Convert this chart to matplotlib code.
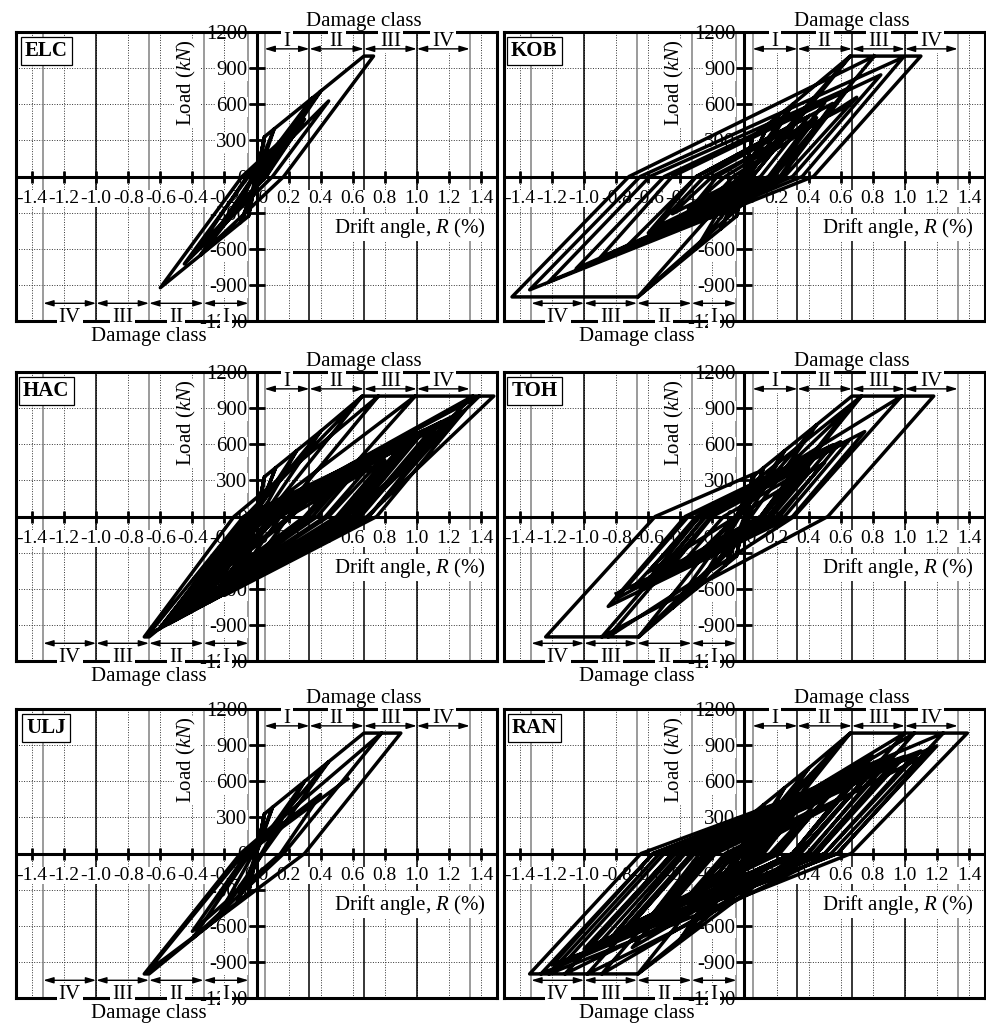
import matplotlib

matplotlib.use("Agg")
import matplotlib.pyplot as plt

plt.rcParams["font.family"] = ["Liberation Serif", "DejaVu Serif"]
plt.rcParams["mathtext.fontset"] = "custom"
plt.rcParams["mathtext.rm"] = "Liberation Serif"
plt.rcParams["mathtext.it"] = "Liberation Serif:italic"


# hysteresis vertices: drift angle R (%) and load (kN)
ELC_R = [0.00, 0.05, -0.05, 0.05, 0.11, -0.01, -0.05, -0.10, 0.01, 0.11, 0.35, 0.02,
         -0.10, -0.35, -0.02, 0.35, 0.40, 0.04, -0.30, -0.015, 0.40, 0.67, 0.73, 0.17,
         -0.35, -0.60, -0.09, 0.30, 0.06, -0.35, -0.06, 0.20, 0.06, -0.10, -0.02, 0.45,
         0.10, -0.45, -0.05, 0.25, 0.05]
ELC_P = [0, 330, -330, 330, 395, 0, -330, -384, 0, 395, 654, 0,
         -384, -654, 0, 654, 708, 0, -570, 0, 708, 1000, 1000, 0,
         -654, -924, 0, 476, 0, -574, 0, 329, 0, -224, 0, 627,
         0, -726, 0, 385, 0]

KOB_R = [0.00, 0.05, -0.05, 0.05, 0.15, 0.00, -0.05, -0.15, 0.00, 0.15, 0.30, 0.03,
         -0.15, -0.30, -0.03, 0.30, 0.66, 0.05, -0.30, -0.665, 0.00, 0.66, 0.81, 0.185,
         -0.665, -1.45, -0.72, 0.81, 1.10, 0.43, -1.34, -0.65, 0.99, 0.36, -1.22, -0.59,
         0.65, 0.23, -0.90, -0.45, 0.50, 0.15, -0.60, -0.30, 0.55, 0.22, -0.40, -0.17,
         0.45, 0.17, -0.25, -0.07, 0.70, 0.25, -1.05, -0.50, 0.85, 0.30, -0.75, -0.30,
         0.40, 0.10, -0.55, -0.25, 0.30, 0.05, -0.35, -0.12, 0.20, 0.00, -0.45, -0.20,
         0.65]
KOB_P = [0, 330, -330, 330, 438, 0, -330, -438, 0, 438, 600, 0,
         -438, -600, 0, 600, 1000, 0, -600, -1000, 0, 1000, 1000, 0,
         -1000, -1000, 0, 1000, 1000, 0, -941, 0, 990, 0, -873, 0,
         734, 0, -673, 0, 613, 0, -469, 0, 607, 0, -371, 0,
         488, 0, -259, 0, 658, 0, -765, 0, 844, 0, -600, 0,
         500, 0, -419, 0, 407, 0, -267, 0, 262, 0, -310, 0,
         590]

HAC_R = [0.00, 0.05, -0.05, 0.05, 0.12, 0.00, -0.05, -0.12, 0.00, 0.12, 0.25, 0.02,
         -0.12, -0.25, -0.02, 0.25, 0.40, 0.04, -0.25, -0.40, -0.04, 0.40, 0.66, 0.06,
         -0.40, -0.60, -0.07, 0.66, 0.76, 0.14, -0.60, -0.67, -0.70, -0.14, 0.76, 0.99,
         0.32, -0.50, 0.00, 0.99, 1.35, 0.60, -0.55, 0.00, 1.35, 1.39, 0.62, -0.60,
         -0.02, 1.39, 1.48, 0.69, -0.676, -0.08, 1.00, 0.55, -0.40, 0.02, 1.20, 0.70,
         -0.30, 0.10, 0.90, 0.52, -0.50, -0.04, 1.30, 0.75, -0.20, 0.15, 0.70, 0.43,
         -0.35, 0.03, 1.10, 0.63, -0.10, 0.20, 0.80, 0.50, -0.25, 0.08, 0.50, 0.30,
         -0.15, 0.11, 1.25, 0.70, -0.55, -0.05, 1.05, 0.60, -0.45, 0.00, 0.95, 0.53,
         -0.60, -0.05, 1.15, 0.65, -0.35, 0.05, 0.60, 0.35, -0.20, 0.10, 0.35, 0.20,
         -0.45, 0.00, 0.85, 0.45, -0.30, 0.05, 0.65, 0.38, -0.20, 0.12, 1.00, 0.57,
         -0.40, 0.03, 0.40, 0.22, -0.05]
HAC_P = [0, 330, -330, 330, 406, 0, -330, -406, 0, 406, 546, 0,
         -406, -546, 0, 546, 708, 0, -546, -708, 0, 708, 1000, 0,
         -708, -924, 0, 1000, 1000, 0, -924, -1000, -1000, 0, 1000, 1000,
         0, -804, 0, 1000, 1000, 0, -885, 0, 1000, 1000, 0, -924,
         0, 1000, 1000, 0, -983, 0, 692, 0, -760, 0, 808, 0,
         -714, 0, 580, 0, -836, 0, 882, 0, -655, 0, 414, 0,
         -690, 0, 738, 0, -549, 0, 469, 0, -625, 0, 300, 0,
         -450, 0, 832, 0, -893, 0, 719, 0, -808, 0, 642, 0,
         -919, 0, 784, 0, -741, 0, 385, 0, -524, 0, 181, 0,
         -722, 0, 574, 0, -652, 0, 420, 0, -537, 0, 647, 0,
         -764, 0, 255, 0, -293]

TOH_R = [0.00, 0.05, -0.05, 0.05, 0.12, 0.00, -0.05, -0.12, 0.00, 0.12, 0.25, 0.02,
         -0.12, -0.30, -0.03, 0.25, 0.45, 0.04, -0.30, -0.45, -0.04, 0.45, 0.67, 0.73,
         0.12, -0.45, -0.66, -0.06, 0.66, 0.11, -0.66, -0.85, -0.21, 0.73, 0.98, 0.31,
         -0.85, -0.89, -0.24, 0.98, 1.18, 0.52, -0.89, -1.24, -0.557, 0.07, -0.05, -0.60,
         -0.30, 0.45, 0.15, -0.80, -0.35, 0.60, 0.22, -0.50, -0.20, 0.30, 0.10, -0.70,
         -0.28, 0.75, 0.30, -0.85, -0.37, 0.55, 0.17, -0.40, -0.13, 0.40, 0.15, -0.55,
         -0.25, 0.65, 0.25, -0.65, -0.28, 0.35, 0.10, -0.25, -0.05, 0.50, 0.20, -0.80]
TOH_P = [0, 330, -330, 330, 406, 0, -330, -406, 0, 406, 546, 0,
         -406, -600, 0, 546, 762, 0, -600, -762, 0, 762, 1000, 1000,
         0, -762, -1000, 0, 911, 0, -1000, -1000, 0, 1000, 1000, 0,
         -1000, -1000, 0, 1000, 1000, 0, -1000, -1000, 0, 361, 0, -462,
         0, 507, 0, -683, 0, 621, 0, -493, 0, 362, 0, -597,
         0, 705, 0, -747, 0, 594, 0, -404, 0, 405, 0, -504,
         0, 629, 0, -604, 0, 432, 0, -261, 0, 447, 0, -640]

ULJ_R = [0.00, 0.05, -0.05, 0.05, 0.10, -0.01, -0.05, -0.12, 0.00, 0.10, 0.30, 0.03,
         -0.12, -0.25, -0.02, 0.30, 0.45, 0.04, -0.25, -0.40, -0.04, 0.45, 0.67, 0.78,
         0.17, -0.40, -0.67, -0.70, -0.10, 0.78, 0.90, 0.30, -0.68, -0.08, 0.40, 0.15,
         -0.40, -0.06, 0.57]
ULJ_P = [0, 330, -330, 330, 384, 0, -330, -406, 0, 384, 600, 0,
         -406, -546, 0, 600, 762, 0, -546, -708, 0, 762, 1000, 1000,
         0, -708, -1000, -1000, 0, 1000, 1000, 0, -980, 0, 490, 0,
         -647, 0, 620]

RAN_R = [0.00, 0.05, -0.05, 0.05, 0.12, 0.00, -0.05, -0.12, 0.00, 0.12, 0.25, 0.02,
         -0.12, -0.25, -0.02, 0.25, 0.40, 0.04, -0.25, -0.40, -0.04, 0.40, 0.66, 0.06,
         -0.30, -0.02, 0.50, 0.08, -0.40, -0.665, -0.065, 0.66, 1.00, 0.333, -0.665, -0.89,
         -0.24, 1.00, 1.06, 0.39, -0.89, -0.98, -0.31, 0.80, 0.30, -0.70, -0.20, 1.06,
         1.24, 0.54, -0.98, -1.12, -0.43, 0.90, 0.40, -1.12, -1.22, -0.53, 1.24, 1.39,
         0.665, -1.22, -1.27, -0.57, 1.10, 0.50, -1.27, -1.34, -0.645, 1.00, 0.45, -1.00,
         -0.45, 0.80, 0.33, -0.90, -0.40, 1.20, 0.58, -1.10, -0.50, 0.60, 0.20, -0.70,
         -0.32, 0.90, 0.43, -0.60, -0.23, 0.50, 0.20, -0.80, -0.37, 0.70, 0.30, -0.40,
         -0.12, 0.40, 0.16, -0.50, -0.20, 0.30, 0.10, -0.20, -0.05, 1.15, 0.58, -1.20,
         -0.57, 0.95, 0.45, -0.85, -0.38, 1.05, 0.50, -0.65, -0.25, 0.65, 0.30, -1.00,
         -0.45, 0.50, 0.18, -0.45, -0.18, 0.25, 0.08, -0.10, -0.02, 0.55, 0.30, -0.60,
         -0.28, 0.75, 0.35, -0.35, -0.10, 0.45, 0.22, -0.75, -0.33, 0.35, 0.12, -0.30,
         -0.08, 0.60, 0.30, -0.50, -0.20, 0.20]
RAN_P = [0, 330, -330, 330, 406, 0, -330, -406, 0, 406, 546, 0,
         -406, -546, 0, 546, 708, 0, -546, -708, 0, 708, 1000, 0,
         -554, 0, 765, 0, -708, -1000, 0, 1000, 1000, 0, -1000, -1000,
         0, 1000, 1000, 0, -1000, -1000, 0, 810, 0, -781, 0, 1000,
         1000, 0, -1000, -1000, 0, 796, 0, -1000, -1000, 0, 1000, 1000,
         0, -1000, -1000, 0, 852, 0, -1000, -1000, 0, 808, 0, -810,
         0, 679, 0, -737, 0, 894, 0, -875, 0, 582, 0, -584,
         0, 713, 0, -582, 0, 451, 0, -649, 0, 608, 0, -427,
         0, 344, 0, -440, 0, 314, 0, -208, 0, 833, 0, -927,
         0, 776, 0, -726, 0, 808, 0, -625, 0, 549, 0, -793,
         0, 516, 0, -414, 0, 274, 0, -127, 0, 404, 0, -549,
         0, 617, 0, -414, 0, 369, 0, -622, 0, 395, 0, -288,
         0, 463, 0, -488, 0, 252]

RECORDS = ["ELC", "KOB", "HAC", "TOH", "ULJ", "RAN"]
DRIFTS = [ELC_R, KOB_R, HAC_R, TOH_R, ULJ_R, RAN_R]
LOADS = [ELC_P, KOB_P, HAC_P, TOH_P, ULJ_P, RAN_P]

X_TICKS = [-1.4, -1.2, -1.0, -0.8, -0.6, -0.4, -0.2, 0.0, 0.2, 0.4, 0.6, 0.8, 1.0, 1.2, 1.4]
X_TICK_LABELS = ["-1.4", "-1.2", "-1.0", "-0.8", "-0.6", "-0.4", "-0.2", "0.0",
                 "0.2", "0.4", "0.6", "0.8", "1.0", "1.2", "1.4"]
Y_TICKS = [-1200, -900, -600, -300, 0, 300, 600, 900, 1200]
Y_TICK_LABELS = ["-1200", "-900", "-600", "-300", "0", "300", "600", "900", "1200"]
Y_GRID = [-900, -600, -300, 300, 600, 900]

# damage class boundaries (drift %) and names
CLASS_EDGES = [0.05, 0.33, 0.67, 1.0, 1.33]
CLASS_NAMES = ["I", "II", "III", "IV"]
EDGE_COLORS_POS = ["0.5", "k", "k", "k", "0.5"]
EDGE_COLORS_NEG = ["0.5", "0.5", "0.5", "k", "0.5"]

FIG_W, FIG_H = 987, 1024
PANEL_W, PANEL_H = 481, 289
PANEL_ORIGINS = [(16, 32), (504, 32), (16, 372), (504, 372), (16, 709), (504, 709)]

FS = 15


def draw_panel(ax, name, drift, load):
    ax.set_xlim(-1.5, 1.5)
    ax.set_ylim(-1200, 1200)
    ax.set_xticks([])
    ax.set_yticks([])
    for spine in ax.spines.values():
        spine.set_linewidth(2.2)

    for x in X_TICKS:
        ax.axvline(x, color="0.2", lw=0.7, ls=(0, (1, 1.6)), zorder=0.5)
    for y in Y_GRID:
        ax.axhline(y, color="0.2", lw=0.7, ls=(0, (1, 1.6)), zorder=0.5)

    for edge, cp, cn in zip(CLASS_EDGES, EDGE_COLORS_POS, EDGE_COLORS_NEG):
        ax.axvline(edge, color=cp, lw=1.1, zorder=1)
        ax.axvline(-edge, color=cn, lw=1.1, zorder=1)

    arrow = dict(arrowstyle="<|-|>,head_length=0.6,head_width=0.18", lw=1.0,
                 color="k", shrinkA=0, shrinkB=0)
    for lo, hi, lab in zip(CLASS_EDGES[:-1], CLASS_EDGES[1:], CLASS_NAMES):
        ax.annotate("", xy=(hi, 1060), xytext=(lo, 1060), arrowprops=arrow, zorder=4.5)
        ax.annotate("", xy=(-hi, -1053), xytext=(-lo, -1053), arrowprops=arrow, zorder=4.5)
        ax.text((lo + hi) / 2, 1125, lab, ha="center", va="center", fontsize=FS,
                bbox=dict(fc="white", ec="none", pad=1.5), zorder=4)
        ax.text(-(lo + hi) / 2, -1172, lab, ha="center", va="center", fontsize=FS,
                bbox=dict(fc="white", ec="none", pad=1.5), zorder=4)
    ax.text(0.67, 1285, "Damage class", ha="center", va="center", fontsize=FS,
            clip_on=False, zorder=5)
    ax.text(-0.67, -1325, "Damage class", ha="center", va="center", fontsize=FS,
            clip_on=False, zorder=5)

    # axes through the origin with crossing ticks
    ax.axhline(0, color="k", lw=2.2, zorder=2)
    ax.axvline(0, color="k", lw=2.2, zorder=2)
    ax.plot(X_TICKS, [0] * len(X_TICKS), ls="none", marker="|", ms=9, mew=2.0,
            color="k", zorder=2)
    ax.plot([0] * len(Y_GRID), Y_GRID, ls="none", marker="_", ms=11, mew=2.0,
            color="k", zorder=2)

    for x, lab in zip(X_TICKS, X_TICK_LABELS):
        ax.text(x, -218, lab, ha="center", va="baseline", fontsize=14,
                bbox=dict(fc="white", ec="none", pad=0.2), zorder=1.5)
    for y, lab in zip(Y_TICKS, Y_TICK_LABELS):
        box = None if abs(y) == 1200 else dict(fc="white", ec="none", pad=0.4)
        ax.text(-0.056, y, lab, ha="right", va="center_baseline", fontsize=FS,
                bbox=box, zorder=1.5, clip_on=False)

    ax.plot(drift, load, color="k", lw=2.5, zorder=3, solid_joinstyle="round")

    ax.text(-0.436, 775, "Load ($kN$)", rotation=90, ha="center", va="center",
            fontsize=FS, bbox=dict(fc="white", ec="none", pad=1.0), zorder=4)
    ax.text(1.43, -425, "Drift angle, $R$ (%)", ha="right", va="center", fontsize=FS,
            bbox=dict(fc="white", ec="none", pad=1.0), zorder=4)
    ax.text(0.063, 0.934, name, transform=ax.transAxes, ha="center", va="center",
            fontsize=FS, fontweight="bold",
            bbox=dict(boxstyle="square,pad=0.2", fc="white", ec="k", lw=0.9), zorder=4)


def main():
    fig = plt.figure(figsize=(FIG_W / 100, FIG_H / 100), dpi=100)
    for (px, py), name, drift, load in zip(PANEL_ORIGINS, RECORDS, DRIFTS, LOADS):
        rect = [px / FIG_W, 1 - (py + PANEL_H) / FIG_H, PANEL_W / FIG_W, PANEL_H / FIG_H]
        ax = fig.add_axes(rect)
        draw_panel(ax, name, drift, load)
    fig.savefig("out.png", dpi=100, facecolor="white")
    plt.close(fig)


if __name__ == "__main__":
    main()
